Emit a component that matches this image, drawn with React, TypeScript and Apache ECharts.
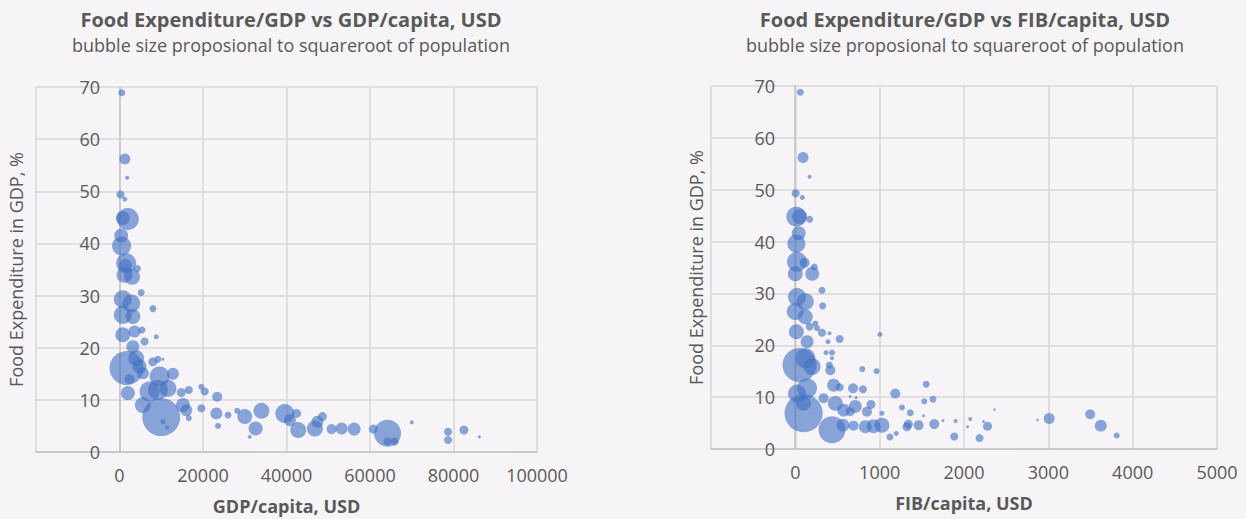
import React, { useEffect, useRef } from "react";
import * as echarts from "echarts";

// [GDP per capita (USD), food expenditure share of GDP (%), population (millions)]
const gdpPoints: number[][] = [
  [550, 68.9, 1.6], [1270, 56.2, 10], [1850, 52.6, 0.17], [240, 49.4, 2.8], [1270, 48.5, 0.42],
  [2000, 44.7, 159], [800, 44.9, 26], [400, 41.5, 26], [500, 39.5, 88], [1600, 36.2, 108],
  [1400, 35.8, 19], [4300, 35.2, 1.6], [1200, 34, 44], [3000, 33.6, 44], [5200, 30.6, 1.6],
  [8000, 27.5, 1.6], [800, 29.3, 71], [2800, 28.5, 71], [800, 26.3, 71], [3200, 26, 34],
  [800, 22.5, 34], [3600, 23.1, 14], [5400, 23.4, 1.6], [6000, 21.2, 2.8], [8800, 22.1, 0.42],
  [3200, 20.2, 19], [1700, 16.1, 904], [4000, 18, 44], [4800, 16.4, 26], [5600, 15.1, 14],
  [8000, 17.3, 4.4], [9200, 17.8, 1.6], [10400, 17.8, 0.055], [9600, 14.5, 108], [12800, 15, 14],
  [2400, 14, 6.8], [2000, 11.3, 26], [7200, 11.6, 108], [9200, 11.9, 108], [11600, 12.2, 57],
  [5600, 9, 44], [10000, 6.7, 1411], [10400, 5.8, 0.42], [11400, 4.7, 0.17], [14800, 11.4, 4.4],
  [16600, 11.9, 2.8], [19600, 12.5, 0.9], [20400, 11.6, 2.8], [15200, 9, 26], [16000, 8, 14],
  [16600, 6.5, 0.88], [19600, 8.4, 2.8], [23400, 10.6, 6.8], [23200, 7.4, 14], [23600, 5, 0.9],
  [26000, 7.1, 1.6], [28200, 7.9, 0.9], [30000, 6.8, 34], [32600, 4.5, 26], [31200, 2.9, 0.17],
  [34000, 7.9, 44], [39600, 7.4, 88], [42400, 7.4, 4.4], [40800, 6.1, 14], [42800, 4.2, 44],
  [46800, 4.5, 44], [47400, 5.8, 14], [48600, 6.8, 4.4], [50800, 4.4, 6.8], [53200, 4.5, 14],
  [56200, 4.4, 19], [60800, 4.4, 4.4], [64200, 3.6, 360], [64200, 2, 2.8], [65900, 2, 2.8],
  [70000, 5.7, 0.17], [78700, 3.9, 2.8], [78700, 2.3, 2.8], [82500, 4.2, 4.4], [86200, 2.9, 0.055],
];

// [FIB per capita (USD), food expenditure share of GDP (%), population (millions)]
const fibPoints: number[][] = [
  [59, 68.8, 1.6], [91, 56.2, 9.9], [170, 52.5, 0.17], [4, 49.3, 2.8], [83, 48.5, 0.42],
  [12, 44.8, 108], [51, 44.8, 34], [170, 44.3, 1.6], [40, 41.6, 26], [12, 39.6, 71],
  [20, 36.1, 108], [110, 35.9, 6.8], [225, 35.1, 1.6], [0, 33.8, 34], [200, 33.8, 26],
  [316, 30.6, 1.6], [324, 27.6, 1.6], [20, 29.3, 71], [118, 28.4, 57], [0, 26.5, 57],
  [118, 25.5, 34], [12, 22.6, 34], [170, 23.6, 2.8], [237, 24.2, 0.88], [257, 23.3, 0.88],
  [316, 22.4, 2.8], [406, 22.3, 0.17], [1003, 22.1, 0.42], [525, 21.2, 2.8], [387, 20.7, 0.42],
  [139, 20.7, 19], [364, 18.6, 0.42], [435, 18.6, 0.88], [435, 17.5, 0.17], [50, 16.2, 904],
  [118, 17.5, 108], [198, 15.9, 57], [415, 15.2, 6.8], [403, 16.2, 1.6], [794, 15.4, 0.88],
  [964, 15, 0.88], [20, 10.7, 71], [139, 11.7, 108], [98, 8.8, 34], [98, 6.9, 1411],
  [335, 9.8, 6.8], [454, 12.3, 19], [525, 11.9, 2.8], [684, 11.7, 6.8], [802, 11.5, 2.8],
  [650, 10.1, 0.055], [720, 9.9, 0.055], [474, 8.8, 34], [573, 7.5, 19], [711, 8.2, 19],
  [897, 8.6, 4.4], [849, 7.2, 6.8], [1027, 6.9, 0.42], [435, 3.7, 360], [565, 4.6, 19],
  [690, 4.5, 6.8], [830, 4.3, 19], [928, 4.4, 26], [1027, 4.6, 34], [1122, 2.3, 1.6],
  [1197, 3, 0.42], [1185, 10.7, 6.8], [1264, 8, 0.88], [1363, 7, 1.6], [1324, 4.3, 4.4],
  [1340, 4.8, 4.4], [1461, 4.6, 6.8], [1552, 12.5, 1.6], [1529, 9.2, 0.88], [1632, 9.6, 1.6],
  [1520, 6.4, 0.055], [1647, 4.8, 6.8], [1750, 5.5, 0.055], [1900, 5.4, 0.17], [1884, 2.4, 2.8],
  [2074, 5.8, 0.17], [2042, 4.3, 0.055], [2184, 2.1, 2.8], [2232, 5.3, 0.055], [2279, 4.4, 4.4],
  [2362, 7.6, 0.03], [2871, 5.6, 0.03], [3010, 5.9, 9.9], [3496, 6.7, 6.8], [3622, 4.5, 14],
  [3811, 2.6, 0.88], [650, 7.2, 4.4],
];

const titles = ["Food Expenditure/GDP vs GDP/capita, USD", "Food Expenditure/GDP vs FIB/capita, USD"];
const subtitle = "bubble size proposional to squareroot of population";
const xNames = ["GDP/capita, USD", "FIB/capita, USD"];
const yName = "Food Expenditure in GDP, %";

const FONT = "'Open Sans', 'Noto Sans', sans-serif";
const TXT = "#595959";

export default function App() {
  const ref = useRef<HTMLDivElement>(null);
  useEffect(() => {
    if (!ref.current) return;
    const chart = echarts.init(ref.current, undefined, { renderer: "svg" });
    const sizeFn = (v: number[]) => 6.2 * Math.pow(v[2], 0.25);
    const grids = [
      { left: 36, top: 87, width: 501, height: 365, containLabel: false, outerBoundsMode: "none" },
      { left: 711, top: 86, width: 506, height: 363, containLabel: false, outerBoundsMode: "none" },
    ];
    const xRanges = [
      { min: -20000, max: 100000, interval: 20000 },
      { min: -1000, max: 5000, interval: 1000 },
    ];
    const zeroOffsets = [-84, -84];
    const yNameGaps = [95, 90];
    const centers = [286, 960];
    const xAxes = [0, 1].map((i) => ({
      type: "value",
      gridIndex: i,
      ...xRanges[i],
      axisLine: { show: true, onZero: false, lineStyle: { color: "#c4c4c4", width: 1.5 } },
      axisTick: { show: false },
      axisLabel: {
        showMinLabel: false,
        color: TXT,
        fontSize: 18,
        fontFamily: FONT,
        margin: 14,
        formatter: (v: number) => String(v),
      },
      splitLine: { show: true, lineStyle: { color: "#d9d9d9", width: 1.5 } },
      name: xNames[i],
      nameLocation: "middle",
      nameGap: 45,
      nameTextStyle: { color: TXT, fontSize: 18, fontWeight: "bold", fontFamily: FONT },
    }));
    const yAxes = [0, 1].map((i) => ({
      type: "value",
      gridIndex: i,
      min: 0,
      max: 70,
      interval: 10,
      offset: zeroOffsets[i],
      axisLine: { show: true, onZero: false, lineStyle: { color: "#c4c4c4", width: 1.5 } },
      axisTick: { show: false },
      axisLabel: { color: TXT, fontSize: 18, fontFamily: FONT, margin: 20 },
      splitLine: { show: true, lineStyle: { color: "#d9d9d9", width: 1.5 } },
      name: yName,
      nameLocation: "middle",
      nameGap: yNameGaps[i],
      nameTextStyle: { color: TXT, fontSize: 18, fontFamily: FONT },
    }));
    chart.setOption({
      animation: false,
      backgroundColor: "#f7f4f7",
      title: [0, 1].map((i) => ({
        text: titles[i],
        subtext: subtitle,
        left: centers[i],
        textAlign: "center",
        top: 4,
        itemGap: 7,
        textStyle: { color: TXT, fontSize: 20, fontWeight: "bold", fontFamily: FONT },
        subtextStyle: { color: TXT, fontSize: 18, fontFamily: FONT },
      })),
      grid: grids,
      xAxis: xAxes,
      yAxis: yAxes,
      series: [gdpPoints, fibPoints].map((d, i) => ({
        type: "scatter",
        xAxisIndex: i,
        yAxisIndex: i,
        data: d,
        symbolSize: sizeFn,
        itemStyle: { color: "rgba(68,114,196,0.78)" },
        emphasis: { disabled: true },
      })),
    });
    return () => chart.dispose();
  }, []);
  return (
    <div
      ref={ref}
      style={{ position: "fixed", left: 0, top: 0, width: 1246, height: 519 }}
    />
  );
}
